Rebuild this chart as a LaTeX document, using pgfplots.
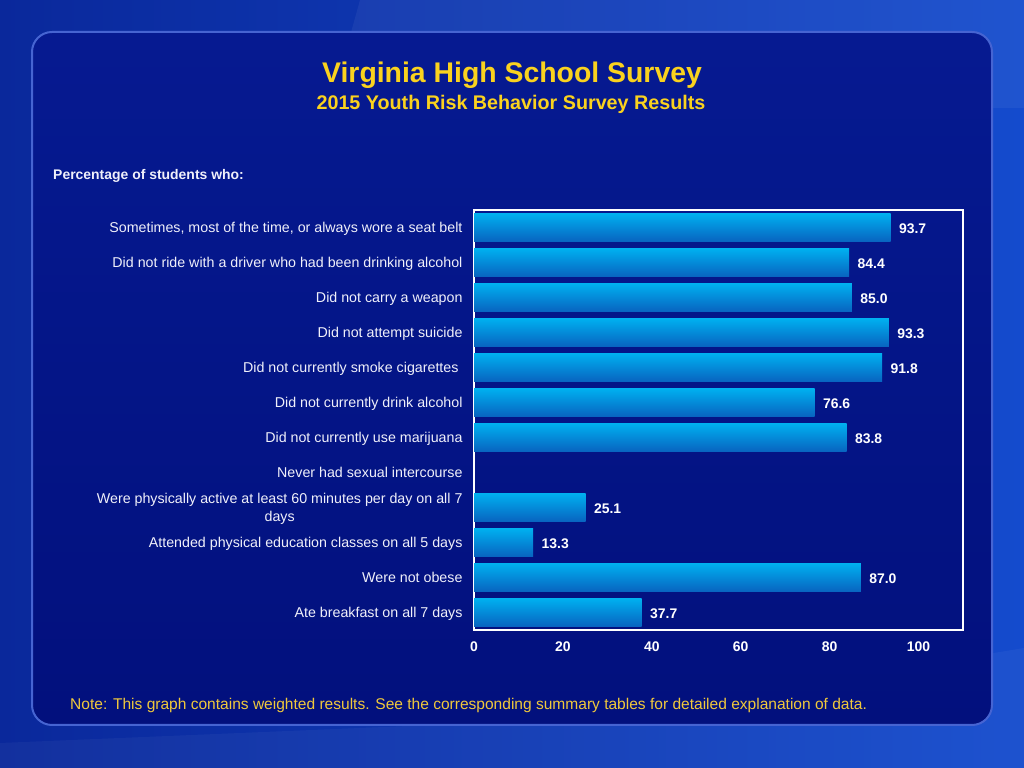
\documentclass[border=0pt]{standalone}
\usepackage{fontspec}
\setmainfont{Liberation Sans}
\usepackage{pgfplots}
\pgfplotsset{compat=1.18}
\definecolor{bgL}{RGB}{10,40,155}
\definecolor{bgR}{RGB}{20,75,205}
\definecolor{panelTop}{RGB}{6,26,145}
\definecolor{panelBot}{RGB}{2,16,125}
\definecolor{panelBorder}{RGB}{70,100,210}
\definecolor{titleY}{RGB}{250,210,30}
\definecolor{noteY}{RGB}{240,200,60}
\definecolor{barTop}{RGB}{0,176,240}
\definecolor{barBot}{RGB}{8,100,192}
\definecolor{labW}{RGB}{240,240,250}
\pgfplotsset{barstyle/.style={draw=none, bar shift=0pt, top color=barTop, middle color=barTop!85!barBot, bottom color=barBot}}
\begin{document}
\begin{tikzpicture}[x=1bp,y=1bp]
\useasboundingbox (0,0) rectangle (1024,768);
% background
\shade[left color=bgL, right color=bgR] (0,0) rectangle (1024,768);
\fill[white,opacity=0.05] (360,768) -- (1024,768) -- (1024,660) -- (330,660) -- cycle;
\fill[white,opacity=0.04] (0,0) -- (1024,0) -- (1024,120) -- (600,50) -- (0,25) -- cycle;
% panel
\shade[rounded corners=20bp, top color=panelTop, bottom color=panelBot] (32,43) rectangle (992,736);
\draw[rounded corners=20bp, draw=panelBorder, line width=2bp] (32,43) rectangle (992,736);
% titles
\node[text=titleY, font=\fontsize{28.5}{32}\selectfont\bfseries] at (512,693) {Virginia High School Survey};
\node[text=titleY, font=\fontsize{19.8}{23}\selectfont\bfseries] at (511,664) {2015 Youth Risk Behavior Survey Results};
\node[text=labW, anchor=west, inner sep=0, font=\fontsize{14}{16}\selectfont\bfseries] at (53,592) {Percentage of students who:};
\node[text=noteY, anchor=west, inner sep=0, font=\fontsize{15.6}{18}\selectfont] at (70,63) {Note: This graph contains weighted results. See the corresponding summary tables for detailed explanation of data.};
\begin{axis}[
  at={(474bp,138bp)}, anchor=south west,
  scale only axis, width=489bp, height=420bp,
  xmin=0, xmax=110, ymin=-0.5, ymax=11.5,
  y dir=reverse,
  xbar, bar width=0.8,
  xtick={0,20,40,60,80,100},
  ytick={0,1,2,3,4,5,6,7,8,9,10,11},
  yticklabels={{\strut Sometimes, most of the time, or always wore a seat belt},
    \strut Did not ride with a driver who had been drinking alcohol,
    \strut Did not carry a weapon,
    \strut Did not attempt suicide,
    \strut Did not currently smoke cigarettes\ ,
    \strut Did not currently drink alcohol,
    \strut Did not currently use marijuana,
    \strut Never had sexual intercourse,
    Were physically active at least 60 minutes per day on all 7\\days,
    \strut Attended physical education classes on all 5 days,
    \strut Were not obese,
    \strut Ate breakfast on all 7 days},
  major tick length=0,
  axis line style={white, line width=1.5bp},
  /pgf/number format/assume math mode=true,
  xticklabel style={text=white, font=\fontsize{14}{16}\selectfont\bfseries, yshift=-8bp},
  yticklabel style={text=labW, font=\fontsize{14.3}{18}\selectfont, align=center, xshift=-8bp, yshift=-1.5bp},
  nodes near coords={\pgfmathprintnumber[fixed,fixed zerofill,precision=1]{\pgfplotspointmeta}},
  nodes near coords style={text=white, font=\fontsize{14}{16}\selectfont\bfseries, xshift=5bp, yshift=-1bp},
]
\addplot[barstyle] coordinates {(93.7,0)};
\addplot[barstyle] coordinates {(84.4,1)};
\addplot[barstyle] coordinates {(85.0,2)};
\addplot[barstyle] coordinates {(93.3,3)};
\addplot[barstyle] coordinates {(91.8,4)};
\addplot[barstyle] coordinates {(76.6,5)};
\addplot[barstyle] coordinates {(83.8,6)};
\addplot[barstyle] coordinates {(25.1,8)};
\addplot[barstyle] coordinates {(13.3,9)};
\addplot[barstyle] coordinates {(87.0,10)};
\addplot[barstyle] coordinates {(37.7,11)};
\end{axis}
\end{tikzpicture}
\end{document}
